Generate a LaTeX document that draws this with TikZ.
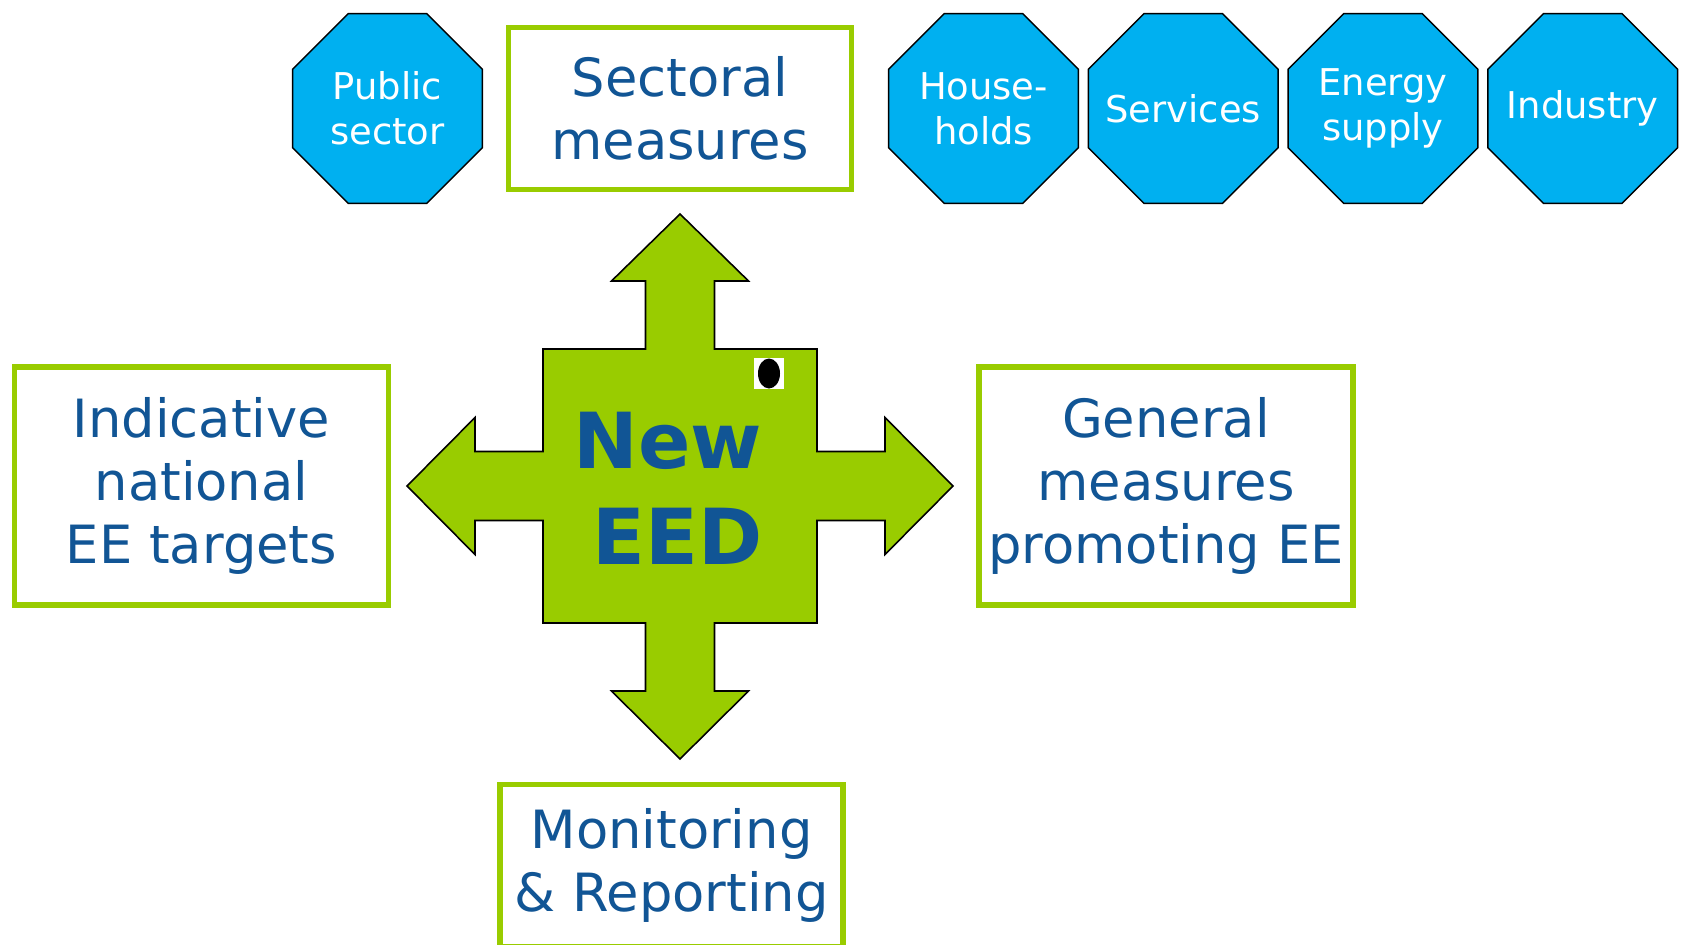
\documentclass[tikz,border=0pt]{standalone}
\usepackage{fontspec}
\setmainfont{DejaVu Sans}
\usetikzlibrary{positioning,shapes.geometric}
\definecolor{EEDGreen}{RGB}{153,204,0}
\definecolor{EEDCyan}{RGB}{0,176,240}
\definecolor{EEDBlue}{RGB}{17,85,149}

\begin{document}
\begin{tikzpicture}[x=0.02cm, y=-0.02cm]
  \tikzset{
    gbox/.style={draw=EEDGreen, line width=3.2pt, fill=white, align=center, text=EEDBlue, inner sep=0pt,
      font=\fontsize{30}{36}\selectfont},
    octa/.style={regular polygon, regular polygon sides=8, minimum size=4.11cm, inner sep=-15pt,
      draw=black, line width=0.8pt, fill=EEDCyan, text=white, align=center,
      font=\fontsize{21}{25.5}\selectfont},
    crossarrow/.style={draw=black, line width=0.9pt, fill=EEDGreen, line join=miter}
  }
  \useasboundingbox (0,0) rectangle (1681,944);

  % four-way arrow in the middle
  \draw[crossarrow] (645.5,349) -- (645.5,281) -- (611.5,281) -- (680,214) -- (748.5,281) -- (714.5,281)
    -- (714.5,349) -- (817,349) -- (817,451.5) -- (885,451.5) -- (885,417.5) -- (953,486) -- (885,554.5)
    -- (885,520.5) -- (817,520.5) -- (817,623) -- (714.5,623) -- (714.5,691) -- (748.5,691) -- (680,759)
    -- (611.5,691) -- (645.5,691) -- (645.5,623) -- (543,623) -- (543,520.5) -- (475,520.5) -- (475,554.5)
    -- (407,486) -- (475,417.5) -- (475,451.5) -- (543,451.5) -- (543,349) -- cycle;
  \node[align=right, text=EEDBlue, font=\bfseries\fontsize{44}{54.5}\selectfont] (eed) at (668,488) {New\\EED};
  \node[fill=white, minimum width=0.6cm, minimum height=0.62cm, inner sep=0pt] (blot) at (769,373.5) {};
  \fill (blot.center) ellipse [x radius=0.22cm, y radius=0.3cm];

  % boxes round the arrow
  \node[gbox, minimum width=6.86cm, minimum height=3.24cm] (sect) at (680,108.5) {Sectoral\\measures};
  \node[gbox, minimum width=7.48cm, minimum height=4.75cm] (target) at (201.5,486) {Indicative\\national\\EE targets};
  \node[gbox, minimum width=7.48cm, minimum height=4.75cm] (general) at (1166,486) {General\\measures\\promoting EE};
  \node[gbox, minimum width=6.86cm, minimum height=3.24cm] (monitor) at (671.5,865.5) {Monitoring\\\& Reporting};

  % sectors
  \node[octa] (public) at (387.5,108.5) {Public\\sector};
  \node[octa] (house) at (983.5,108.5) {House-\\holds};
  \node[octa, right=0.17cm of house] (serv) {Services};
  \node[octa, right=0.17cm of serv] (supply) {Energy\\supply};
  \node[octa, right=0.17cm of supply] (industry) {Industry};
\end{tikzpicture}
\end{document}
